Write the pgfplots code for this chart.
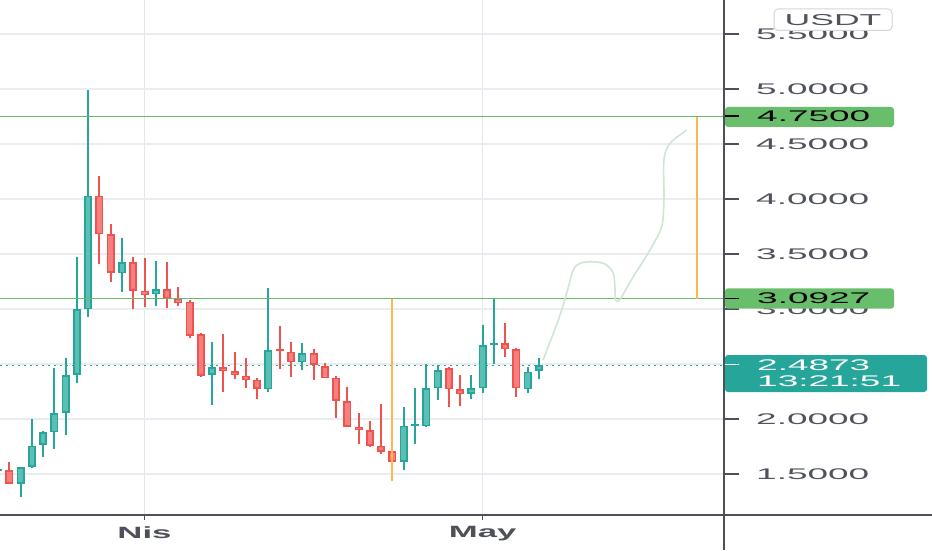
\documentclass[border=0pt]{standalone}
\usepackage{fontspec}
\usepackage{pgfplots}
\usepackage{pgfplotstable}
\pgfplotsset{compat=1.18}
\setmainfont{Liberation Sans}
\newfontfamily\pricefont[FakeStretch=2.4]{Liberation Sans}
\newfontfamily\datefont[FakeStretch=2.13]{Liberation Sans}
\newfontfamily\unitfont[FakeStretch=2.25]{Liberation Sans}
\definecolor{upc}{HTML}{26A69A}
\definecolor{upin}{HTML}{5BBFB4}
\definecolor{dnc}{HTML}{EF5350}
\definecolor{dnin}{HTML}{F5807E}
\definecolor{gridc}{HTML}{E9ECF0}
\definecolor{vgridc}{HTML}{E2E9EE}
\definecolor{axc}{HTML}{4E5059}
\definecolor{txtc}{HTML}{50535E}
\definecolor{lvlc}{HTML}{66BB6A}
\definecolor{lvlbox}{HTML}{69BE6C}
\definecolor{orc}{HTML}{FFB74D}
\definecolor{curvec}{HTML}{CFE6D2}

\pgfplotstableread{
k o h l c
0 1.530 1.550 1.520 1.545
2 1.410 1.565 1.294 1.561
3 1.566 1.997 1.552 1.757
4 1.764 1.890 1.652 1.879
5 1.879 2.461 1.725 2.052
6 2.057 2.552 1.855 2.400
7 2.400 3.475 2.330 2.997
8 2.997 4.990 2.925 4.030
11 3.325 3.643 3.152 3.425
14 3.136 3.436 3.030 3.182
19 2.400 2.697 2.127 2.470
24 2.270 3.188 2.243 2.627
27 2.515 2.688 2.445 2.597
36 1.612 2.106 1.536 1.939
37 1.939 2.279 1.770 1.952
38 1.936 2.500 1.925 2.279
39 2.279 2.490 2.173 2.445
42 2.227 2.400 2.179 2.279
43 2.279 2.855 2.234 2.673
44 2.675 3.088 2.500 2.688
47 2.270 2.470 2.234 2.430
48 2.440 2.552 2.364 2.487
}\upcandles

\pgfplotstableread{
k o h l c
1 1.536 1.612 1.410 1.410
9 4.030 4.212 3.406 3.679
10 3.679 3.770 3.243 3.330
12 3.425 3.470 2.997 3.166
13 3.166 3.461 3.021 3.127
15 3.182 3.430 3.006 3.097
16 3.097 3.197 3.030 3.057
17 3.066 3.080 2.734 2.755
18 2.770 2.780 2.379 2.391
20 2.470 2.770 2.243 2.439
21 2.436 2.606 2.361 2.400
22 2.394 2.552 2.279 2.355
23 2.355 2.370 2.182 2.273
25 2.634 2.848 2.455 2.618
26 2.612 2.697 2.379 2.515
28 2.597 2.634 2.355 2.491
29 2.482 2.506 2.370 2.370
30 2.376 2.390 2.006 2.166
31 2.164 2.294 1.930 1.930
32 1.930 2.052 1.770 1.900
33 1.900 1.985 1.748 1.757
34 1.755 2.136 1.682 1.703
35 1.709 1.720 1.439 1.612
40 2.461 2.476 2.112 2.270
41 2.270 2.400 2.121 2.225
45 2.688 2.875 2.566 2.636
46 2.636 2.643 2.203 2.279
}\dncandles

\pgfplotsset{
  wick/.style={draw=none, mark=none, forget plot,
    error bars/.cd, y dir=both, y explicit, error mark=none,
    error bar style={line width=2pt, draw=#1}},
  body/.style 2 args={draw=none, mark=none, forget plot,
    error bars/.cd, y dir=both, y explicit, error mark=none,
    error bar style={line width=#2, draw=#1}},
}

\begin{document}
\begin{tikzpicture}[x=1pt,y=1pt]
\fill[white] (0,0) rectangle (932,550);
\path[use as bounding box] (0,0) rectangle (932,550);
\begin{axis}[
  at={(0pt,35pt)}, anchor=south west,
  width=724pt, height=515pt, scale only axis,
  xmin=0.1775, xmax=64.4186, ymin=1.12727, ymax=5.80909,
  clip=false,
  axis line style={draw=none},
  xtick={13,43}, xticklabels={Nis,May},
  ytick={1.5,2,2.5,3,3.5,4,4.5,5,5.5},
  yticklabels={1.5000,2.0000,2.5000,3.0000,3.5000,4.0000,4.5000,5.0000,5.5000},
  ytick pos=right, yticklabel pos=right,
  xtick pos=bottom, xticklabel pos=lower,
  tick align=outside,
  major tick length=15pt,
  xtick style={/pgfplots/major tick length=5pt, draw=axc, line width=1.5pt},
  ytick style={draw=axc, line width=1.2pt},
  yticklabel style={anchor=west, inner sep=0pt, xshift=17pt, font=\pricefont\fontsize{15.4}{18}\selectfont, text=txtc},
  xticklabel style={anchor=north, inner sep=0pt, yshift=4pt, font=\datefont\bfseries\fontsize{16.3}{18}\selectfont, text=axc},
  xmajorgrids, ymajorgrids,
  major grid style={color=gridc, line width=1.3pt},
  major x grid style={color=vgridc, line width=1.5pt},
]
% dotted current price line
\addplot[forget plot, upc, line width=1pt, dash pattern=on 2pt off 4pt] coordinates {(0.1775,2.4873) (64.4186,2.4873)};
% wicks
\addplot[wick=upc] table[x=k, y expr={(\thisrow{h}+\thisrow{l})/2}, y error expr={(\thisrow{h}-\thisrow{l})/2}] {\upcandles};
\addplot[wick=dnc] table[x=k, y expr={(\thisrow{h}+\thisrow{l})/2}, y error expr={(\thisrow{h}-\thisrow{l})/2}] {\dncandles};
% bodies
\addplot[body={upc}{8pt}] table[x=k, y expr={(\thisrow{o}+\thisrow{c})/2}, y error expr={max(abs(\thisrow{c}-\thisrow{o})/2,0.008)}] {\upcandles};
\addplot[body={dnc}{8pt}] table[x=k, y expr={(\thisrow{o}+\thisrow{c})/2}, y error expr={max(abs(\thisrow{c}-\thisrow{o})/2,0.008)}] {\dncandles};
\addplot[body={upin}{4.5pt}] table[x=k, y expr={(\thisrow{o}+\thisrow{c})/2}, y error expr={max(abs(\thisrow{c}-\thisrow{o})/2-0.014,0)}] {\upcandles};
\addplot[body={dnin}{4.5pt}] table[x=k, y expr={(\thisrow{o}+\thisrow{c})/2}, y error expr={max(abs(\thisrow{c}-\thisrow{o})/2-0.014,0)}] {\dncandles};
% level lines
\addplot[forget plot, lvlc, line width=1.1pt] coordinates {(0.1775,4.75) (78.7,4.75)};
\addplot[forget plot, lvlc, line width=1.1pt] coordinates {(0.1775,3.0927) (78.7,3.0927)};
% orange range lines
\addplot[forget plot, orc, line width=2pt] coordinates {(35,1.436) (35,3.0927)};
\addplot[forget plot, orc, line width=2pt] coordinates {(62.02,3.0927) (62.02,4.75)};
% hand-drawn projection path
\addplot[forget plot, curvec, line width=1.6pt, smooth, tension=0.5] coordinates {
 (48.36,2.536) (49.72,2.900) (50.46,3.143) (51.05,3.355) (51.64,3.415)
 (52.68,3.430) (53.86,3.409) (54.60,3.325) (54.75,3.173) (54.79,3.082)
 (55.19,3.088) (56.37,3.294) (57.85,3.536) (58.89,3.748) (59.09,3.991)
 (59.09,4.355) (59.63,4.506) (61.11,4.627)};
\end{axis}
% price label boxes
\fill[lvlbox, rounded corners=3pt] (725,423) rectangle (894,443);
\fill[lvlbox, rounded corners=3pt] (725,241.3) rectangle (894,261.7);
\fill[upc, rounded corners=3pt] (725,158) rectangle (927,195);
\draw[black, line width=1.2pt] (724,434) -- (739,434);
\draw[black, line width=1.2pt] (724,251.5) -- (739,251.5);
\draw[white, line width=1.2pt] (724,185.2) -- (739,185.2);
\node[anchor=west, inner sep=0pt, text=black, font=\pricefont\fontsize{15.4}{18}\selectfont] at (757,433.5) {4.7500};
\node[anchor=west, inner sep=0pt, text=black, font=\pricefont\fontsize{15.4}{18}\selectfont] at (757,251.5) {3.0927};
\node[anchor=west, inner sep=0pt, text=white, font=\pricefont\fontsize{15.4}{18}\selectfont] at (757,185.2) {2.4873};
\node[anchor=west, inner sep=0pt, text=white, font=\pricefont\fontsize{15.4}{18}\selectfont] at (757,168.4) {13:21:51};
% unit box
\filldraw[fill=white, draw=gridc!80!gray, line width=1pt, rounded corners=4pt] (774,519.5) rectangle (892,541);
\node[anchor=center, inner sep=0pt, text=txtc, font=\unitfont\fontsize{15.8}{18}\selectfont] at (833,530.4) {USDT};
% axis lines
\draw[axc, line width=1.8pt] (0,35) -- (932,35);
\draw[axc, line width=1.8pt] (724,0) -- (724,550);
\end{tikzpicture}
\end{document}
